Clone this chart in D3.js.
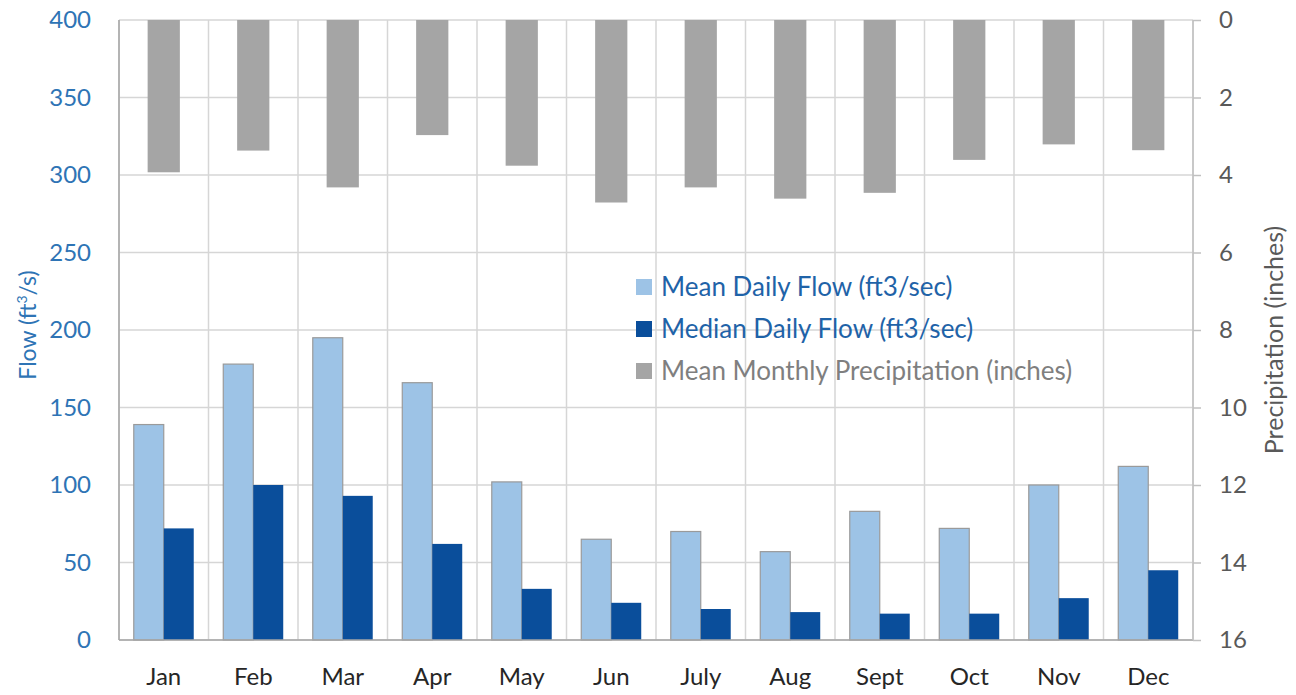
<!DOCTYPE html>
<html>
<head>
<meta charset="utf-8">
<script src="https://d3js.org/d3.v7.min.js"></script>
<style>
  body { margin: 0; background: #fff; }
  svg text { font-family: Lato, "Open Sans", sans-serif; }
</style>
</head>
<body>
<div id="chart"></div>
<script>
var months = ["Jan","Feb","Mar","Apr","May","Jun","July","Aug","Sept","Oct","Nov","Dec"];
var meanFlow = [139, 178, 195, 166, 102, 65, 70, 57, 83, 72, 100, 112];
var medianFlow = [72, 100, 93, 62, 33, 24, 20, 18, 17, 17, 27, 45];
var precip = [3.93, 3.37, 4.32, 2.97, 3.76, 4.71, 4.32, 4.61, 4.46, 3.61, 3.21, 3.36];
var flowTicks = [0, 50, 100, 150, 200, 250, 300, 350, 400];
var precipTicks = [0, 2, 4, 6, 8, 10, 12, 14, 16];
var legendLabels = ["Mean Daily Flow (ft3/sec)", "Median Daily Flow (ft3/sec)", "Mean Monthly Precipitation (inches)"];

var W = 1296, H = 695;
var margin = {left: 119, right: 103, top: 20, bottom: 55};
var pw = W - margin.left - margin.right,
    ph = H - margin.top - margin.bottom;

var svg = d3.select("#chart").append("svg")
  .attr("width", W).attr("height", H);
var g = svg.append("g").attr("transform", "translate(" + margin.left + "," + margin.top + ")");

var x = d3.scaleBand().domain(months).range([0, pw]).padding(0);
var yFlow = d3.scaleLinear().domain([0, 400]).range([ph, 0]);
var yPrec = d3.scaleLinear().domain([0, 16]).range([0, ph]);

// gridlines
g.selectAll(".hgrid").data(flowTicks).enter().append("line")
  .attr("x1", 0).attr("x2", pw)
  .attr("y1", function(d){ return yFlow(d); })
  .attr("y2", function(d){ return yFlow(d); })
  .attr("stroke", "#d6d6d6").attr("stroke-width", 1.5);
g.selectAll(".vgrid").data(months.concat(["end"])).enter().append("line")
  .attr("x1", function(d, i){ return i * x.bandwidth(); })
  .attr("x2", function(d, i){ return i * x.bandwidth(); })
  .attr("y1", 0).attr("y2", ph)
  .attr("stroke", "#d6d6d6").attr("stroke-width", 1.5);

// precipitation bars hanging from the top
var pw2 = x.bandwidth() * 0.36;
g.selectAll(".prec").data(precip).enter().append("rect")
  .attr("x", function(d, i){ return x(months[i]) + x.bandwidth() / 2 - pw2 / 2; })
  .attr("y", 0)
  .attr("width", pw2)
  .attr("height", function(d){ return yPrec(d); })
  .attr("fill", "#a5a5a5");

// flow bars
var bw = x.bandwidth() * 0.335;
g.selectAll(".mean").data(meanFlow).enter().append("rect")
  .attr("x", function(d, i){ return x(months[i]) + x.bandwidth() / 2 - bw; })
  .attr("y", function(d){ return yFlow(d); })
  .attr("width", bw)
  .attr("height", function(d){ return ph - yFlow(d); })
  .attr("fill", "#9dc3e6")
  .attr("stroke", "#9a9a9a").attr("stroke-width", 1.2);
g.selectAll(".median").data(medianFlow).enter().append("rect")
  .attr("x", function(d, i){ return x(months[i]) + x.bandwidth() / 2; })
  .attr("y", function(d){ return yFlow(d); })
  .attr("width", bw)
  .attr("height", function(d){ return ph - yFlow(d); })
  .attr("fill", "#0a4e9b");

// axis lines
g.append("line").attr("x1", 0).attr("x2", 0).attr("y1", 0).attr("y2", ph)
  .attr("stroke", "#a6a6a6").attr("stroke-width", 1.5);
g.append("line").attr("x1", 0).attr("x2", pw).attr("y1", ph).attr("y2", ph)
  .attr("stroke", "#a6a6a6").attr("stroke-width", 1.5);
g.append("line").attr("x1", pw).attr("x2", pw).attr("y1", 0).attr("y2", ph)
  .attr("stroke", "#c0c0c0").attr("stroke-width", 1.5);

// left axis
var leftAxis = g.append("g")
  .call(d3.axisLeft(yFlow).tickValues(flowTicks).tickSize(0).tickPadding(28));
leftAxis.select(".domain").remove();
leftAxis.selectAll("text").attr("font-size", "24px").attr("fill", "#2e74b5")
  .style("font-family", "Lato, 'Open Sans', sans-serif");

// right axis
var rightAxis = g.append("g").attr("transform", "translate(" + pw + ",0)")
  .call(d3.axisRight(yPrec).tickValues(precipTicks).tickSize(8).tickPadding(18));
rightAxis.select(".domain").remove();
rightAxis.selectAll("line").attr("stroke", "#c0c0c0").attr("stroke-width", 1.5);
rightAxis.selectAll("text").attr("font-size", "24px").attr("fill", "#595959")
  .style("font-family", "Lato, 'Open Sans', sans-serif");

// bottom axis
var bottomAxis = g.append("g").attr("transform", "translate(0," + ph + ")")
  .call(d3.axisBottom(x).tickSize(0).tickPadding(28));
bottomAxis.select(".domain").remove();
bottomAxis.selectAll("text").attr("font-size", "24px").attr("fill", "#262626")
  .style("font-family", "Lato, 'Open Sans', sans-serif");

// axis titles
var lt = svg.append("text")
  .attr("transform", "translate(36," + (margin.top + ph / 2 - 5) + ") rotate(-90)")
  .attr("text-anchor", "middle")
  .attr("font-size", "23px").attr("fill", "#2e74b5");
lt.append("tspan").text("Flow (ft");
lt.append("tspan").attr("font-size", "14px").attr("dy", "-9").text("3");
lt.append("tspan").attr("dy", "9").text("/s)");

svg.append("text")
  .attr("transform", "translate(1283," + (margin.top + ph / 2 + 10) + ") rotate(-90)")
  .attr("text-anchor", "middle")
  .attr("font-size", "25px").attr("fill", "#595959")
  .text("Precipitation (inches)");

// legend
var legendColors = ["#9dc3e6", "#0a4e9b", "#a5a5a5"];
var legendText = ["#1f63a8", "#1f63a8", "#7f7f7f"];
var legend = svg.append("g").attr("transform", "translate(636,287)");
legend.selectAll("rect").data(legendLabels).enter().append("rect")
  .attr("x", 0)
  .attr("y", function(d, i){ return i * 42 - 8; })
  .attr("width", 16).attr("height", 16)
  .attr("fill", function(d, i){ return legendColors[i]; });
legend.selectAll("text").data(legendLabels).enter().append("text")
  .attr("x", 25)
  .attr("y", function(d, i){ return i * 42 + 9; })
  .attr("font-size", "26px")
  .attr("fill", function(d, i){ return legendText[i]; })
  .text(function(d){ return d; });
</script>
</body>
</html>
